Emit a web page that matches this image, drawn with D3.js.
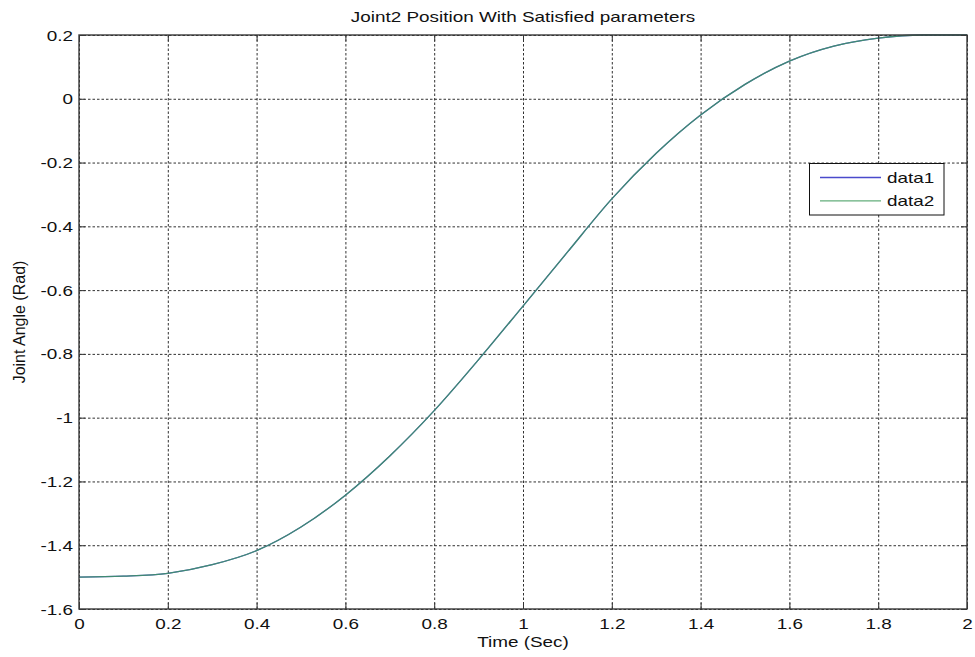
<!DOCTYPE html>
<html>
<head>
<meta charset="utf-8">
<script src="https://cdn.jsdelivr.net/npm/d3@7"></script>
<style>
  html, body { margin: 0; padding: 0; background: #fff; }
  text { font-family: "Liberation Sans", Arial, sans-serif; fill: #111; }
</style>
</head>
<body>
<svg id="chart" width="975" height="657"></svg>
<script>
// ---- data ----
const timeValues = [0, 0.1, 0.2, 0.3, 0.4, 0.5, 0.6, 0.7, 0.8, 0.9, 1.0, 1.1, 1.2, 1.3, 1.4, 1.5, 1.6, 1.7, 1.8, 1.9, 2.0];
const data1 = [-1.5, -1.497, -1.488, -1.461, -1.417, -1.343, -1.243, -1.12, -0.978, -0.818, -0.65, -0.481, -0.314, -0.171, -0.051, 0.045, 0.118, 0.165, 0.19, 0.2, 0.2];
const data2 = [-1.5, -1.497, -1.488, -1.461, -1.417, -1.343, -1.243, -1.12, -0.978, -0.818, -0.65, -0.481, -0.314, -0.171, -0.051, 0.045, 0.118, 0.165, 0.19, 0.2, 0.2];
const seriesNames = ["data1", "data2"];
const xTicks = [0, 0.2, 0.4, 0.6, 0.8, 1, 1.2, 1.4, 1.6, 1.8, 2];
const yTicks = [0.2, 0, -0.2, -0.4, -0.6, -0.8, -1, -1.2, -1.4, -1.6];
const titleText = "Joint2 Position With Satisfied parameters";
const xLabelText = "Time (Sec)";
const yLabelText = "Joint Angle (Rad)";

(function () {
// ---- layout ----
const pL = 79, pR = 967, pT = 35, pB = 609;
const W = pR - pL, H = pB - pT;
const SX = 1.35; // horizontal stretch of the text in the reference
const svg = d3.select("#chart");

const x = d3.scaleLinear().domain([0, 2]).range([pL, pR]);
const y = d3.scaleLinear().domain([-1.6, 0.2]).range([pB, pT]);

// grid
const grid = svg.append("g");
grid.append("g").attr("transform", `translate(0,${pB})`)
  .call(d3.axisBottom(x).tickValues(xTicks).tickSize(-H).tickFormat(""))
  .call(g => g.select(".domain").remove());
grid.append("g").attr("transform", `translate(${pL},0)`)
  .call(d3.axisLeft(y).tickValues(yTicks).tickSize(-W).tickFormat(""))
  .call(g => g.select(".domain").remove());
grid.selectAll("line").attr("stroke", "#1a1a1a").attr("stroke-width", 0.9).attr("stroke-dasharray", "2.5,2");

// lines
const colors = ["#4a4acc", "#3c9a5a"];
const opac = [1, 0.8];
const lineGen = d3.line().x((d, i) => x(timeValues[i])).y(d => y(d)).curve(d3.curveMonotoneX);
[data1, data2].forEach((s, k) => {
  svg.append("path").datum(s).attr("d", lineGen)
    .attr("fill", "none").attr("stroke", colors[k]).attr("stroke-opacity", opac[k]).attr("stroke-width", 1.3);
});

// axes with inward ticks (plain hyphen minus, as in the reference)
const fmt = d => String(Math.round(d * 10) / 10);
const ax = svg.append("g").attr("transform", `translate(0,${pB})`)
  .call(d3.axisBottom(x).tickValues(xTicks).tickSizeInner(-6).tickSizeOuter(0).tickFormat(fmt));
ax.select(".domain").remove();
ax.selectAll("text").attr("y", 20).attr("dy", 0).attr("transform", `scale(${SX},1)`).style("font-size", "14px");

const ay = svg.append("g").attr("transform", `translate(${pL},0)`)
  .call(d3.axisLeft(y).tickValues(yTicks).tickSizeInner(-6).tickSizeOuter(0).tickFormat(fmt));
ay.select(".domain").remove();
ay.selectAll("text").attr("x", -6 / SX).attr("dy", "0.36em").attr("transform", `scale(${SX},1)`).style("font-size", "14px");

const axT = svg.append("g").attr("transform", `translate(0,${pT})`)
  .call(d3.axisTop(x).tickValues(xTicks).tickSizeInner(-6).tickSizeOuter(0).tickFormat(""));
axT.select(".domain").remove();
const ayR = svg.append("g").attr("transform", `translate(${pR},0)`)
  .call(d3.axisRight(y).tickValues(yTicks).tickSizeInner(-6).tickSizeOuter(0).tickFormat(""));
ayR.select(".domain").remove();
[ax, ay, axT, ayR].forEach(g => g.selectAll("line").attr("stroke", "#333").attr("stroke-width", 1));

// box
svg.append("rect").attr("x", pL).attr("y", pT).attr("width", W).attr("height", H)
  .attr("fill", "none").attr("stroke", "#3a3a3a").attr("stroke-width", 1.4);

// title & labels
const cx = (pL + pR) / 2;
svg.append("text").attr("x", cx / SX).attr("y", 22).attr("text-anchor", "middle")
  .attr("transform", `scale(${SX},1)`).style("font-size", "14px").text(titleText);
svg.append("text").attr("x", cx / SX).attr("y", 647).attr("text-anchor", "middle")
  .attr("transform", `scale(${SX},1)`).style("font-size", "14px").text(xLabelText);
svg.append("text").attr("transform", `translate(25,${(pT + pB) / 2}) rotate(-90)`)
  .attr("text-anchor", "middle").style("font-size", "16px").text(yLabelText);

// legend
const lg = svg.append("g");
lg.append("rect").attr("x", 809.5).attr("y", 163.5).attr("width", 134.5).attr("height", 51.5)
  .attr("fill", "#fff").attr("stroke", "#111").attr("stroke-width", 1);
seriesNames.forEach((n, k) => {
  const yy = 177.5 + k * 23.3;
  lg.append("line").attr("x1", 820).attr("x2", 881).attr("y1", yy).attr("y2", yy)
    .attr("stroke", colors[k]).attr("stroke-opacity", opac[k]).attr("stroke-width", 1.3);
  lg.append("text").attr("x", 887 / SX).attr("y", yy).attr("dy", "0.36em")
    .attr("transform", `scale(${SX},1)`).style("font-size", "14px").text(n);
});
})();
</script>
</body>
</html>
